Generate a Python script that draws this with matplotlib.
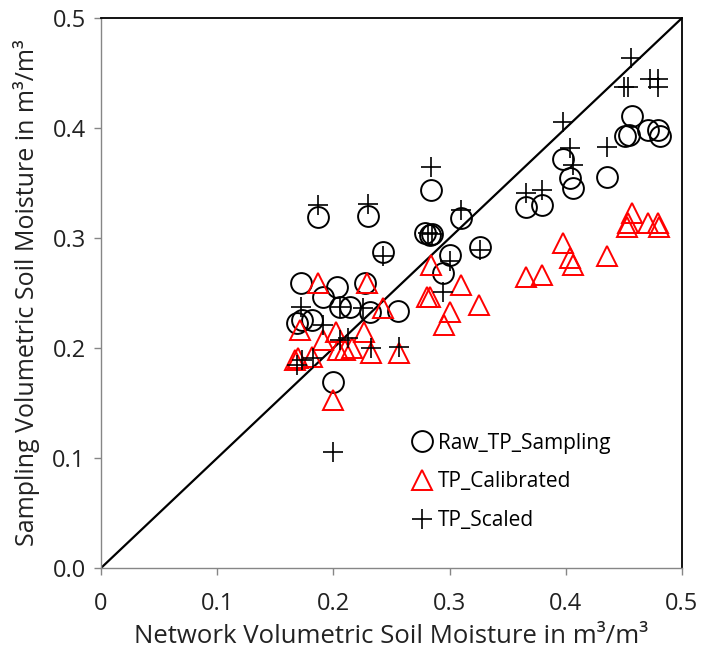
import matplotlib
matplotlib.use("Agg")
import matplotlib.pyplot as plt

plt.rcParams['font.family'] = ['Open Sans', 'DejaVu Sans']

# Raw_TP_Sampling (open circles)
raw_x = [0.1865, 0.2295, 0.2424, 0.279, 0.283, 0.285, 0.284, 0.3098, 0.3003, 0.2945,
         0.326, 0.3657, 0.3792, 0.3972, 0.4036, 0.4065, 0.4357, 0.4566, 0.451, 0.454,
         0.471, 0.479, 0.481, 0.1718, 0.2028, 0.1913, 0.2272, 0.2057, 0.2143, 0.2315,
         0.2559, 0.1684, 0.1727, 0.1813, 0.1999]
raw_y = [0.3194, 0.3203, 0.2876, 0.305, 0.303, 0.304, 0.3436, 0.3179, 0.2845, 0.2679,
         0.292, 0.3285, 0.330, 0.3715, 0.3543, 0.3452, 0.3557, 0.411, 0.393, 0.394,
         0.398, 0.398, 0.393, 0.2588, 0.2558, 0.2467, 0.2588, 0.2376, 0.2376, 0.233,
         0.2335, 0.2224, 0.2255, 0.2255, 0.1694]

# TP_Calibrated (red open triangles)
cal_x = [0.1865, 0.2286, 0.2424, 0.284, 0.2803, 0.2831, 0.3095, 0.3256, 0.3003, 0.2952,
         0.1713, 0.1913, 0.2022, 0.2266, 0.2042, 0.21, 0.2157, 0.2324, 0.2565, 0.1698,
         0.167, 0.1813, 0.1999, 0.3978, 0.4036, 0.4065, 0.4357, 0.3657, 0.3792, 0.4566,
         0.4523, 0.4538, 0.471, 0.4797, 0.4805]
cal_y = [0.2588, 0.2588, 0.236, 0.2755, 0.2467, 0.2467, 0.2573, 0.239, 0.233, 0.2209,
         0.2164, 0.2073, 0.2148, 0.2148, 0.1982, 0.1982, 0.1997, 0.1952, 0.1952, 0.1906,
         0.189, 0.192, 0.1527, 0.2952, 0.2815, 0.2755, 0.2836, 0.2648, 0.2664, 0.3224,
         0.3103, 0.3133, 0.3133, 0.3133, 0.3103]

# TP_Scaled (crosses)
scl_x = [0.1865, 0.2295, 0.2424, 0.281, 0.285, 0.284, 0.3098, 0.3003, 0.2945, 0.326,
         0.3657, 0.3792, 0.3972, 0.4036, 0.4065, 0.4357, 0.4561, 0.4501, 0.4538, 0.4724,
         0.4797, 0.4797, 0.1718, 0.2057, 0.2257, 0.1913, 0.2057, 0.2129, 0.2324, 0.2565,
         0.1684, 0.1727, 0.1827, 0.1999]
scl_y = [0.330, 0.3306, 0.2836, 0.305, 0.304, 0.3648, 0.3255, 0.279, 0.2512, 0.289,
         0.3412, 0.3436, 0.4058, 0.3815, 0.3664, 0.383, 0.4634, 0.4376, 0.4376, 0.4445,
         0.4445, 0.437, 0.2376, 0.2376, 0.2361, 0.2209, 0.2073, 0.2088, 0.1997, 0.2012,
         0.1845, 0.189, 0.1906, 0.1057]

ticks = [0, 0.1, 0.2, 0.3, 0.4, 0.5]
xtick_labels = ['0', '0.1', '0.2', '0.3', '0.4', '0.5']
ytick_labels = ['0.0', '0.1', '0.2', '0.3', '0.4', '0.5']

fig = plt.figure(figsize=(7.02, 6.6), dpi=100)
ax = fig.add_axes([0.1439, 0.1394, 0.8276, 0.8333])

# 1:1 line
ax.axline((0, 0), slope=1, color='black', lw=1.6, zorder=1)

ax.plot(raw_x, raw_y, 'o', ms=15, mfc='none', mec='black', mew=1.4,
        label='Raw_TP_Sampling', zorder=2)
ax.plot(cal_x, cal_y, '^', ms=14, mfc='none', mec='#ff0000', mew=1.4,
        label='TP_Calibrated', zorder=3)
ax.plot(scl_x, scl_y, '+', ms=14, mec='black', mew=1.2,
        label='TP_Scaled', zorder=4)

ax.set_xlim(0, 0.5)
ax.set_ylim(0, 0.5)
ax.set_xticks(ticks)
ax.set_xticklabels(xtick_labels)
ax.set_yticks(ticks)
ax.set_yticklabels(ytick_labels)
ax.tick_params(axis='both', labelsize=17, colors='#868686', labelcolor='#222222',
               length=5, width=1, direction='out')
ax.tick_params(axis='x', pad=12)
ax.tick_params(axis='y', pad=6)

for side in ['left', 'bottom']:
    ax.spines[side].set_color('#868686')
    ax.spines[side].set_linewidth(1)
for side in ['top', 'right']:
    ax.spines[side].set_color('black')
    ax.spines[side].set_linewidth(1.3)

ax.set_xlabel('Network Volumetric Soil Moisture in m³/m³', fontsize=18.5,
              color='#222222', labelpad=6)
ax.set_ylabel('Sampling Volumetric Soil Moisture in m³/m³', fontsize=18,
              color='#222222', labelpad=9)

ax.legend(loc='upper left', bbox_to_anchor=(0.535, 0.246), frameon=False,
          fontsize=15, handletextpad=0.25, handlelength=1.0, labelspacing=0.85,
          borderpad=0, borderaxespad=0)

fig.savefig('out.png', dpi=100)
